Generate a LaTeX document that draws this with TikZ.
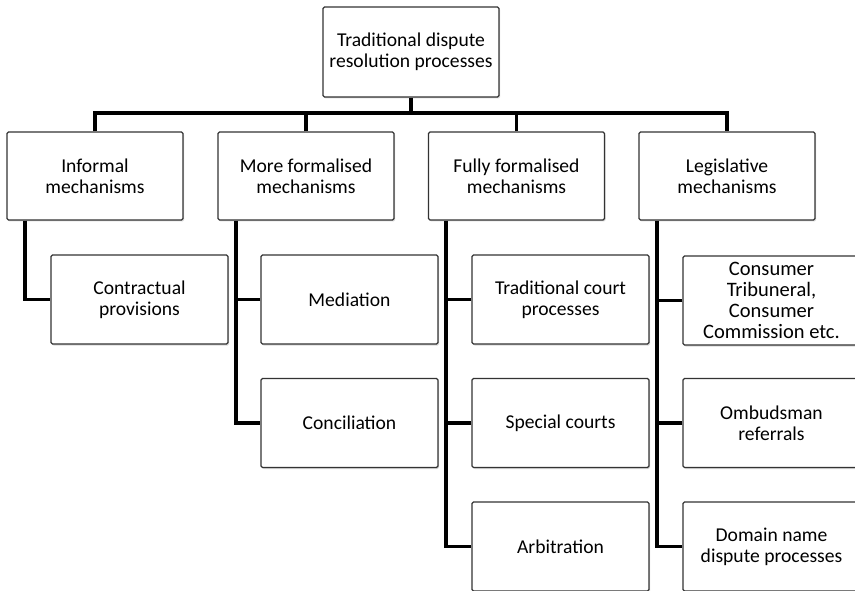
\documentclass[tikz,border=0pt]{standalone}
\usepackage{fontspec}
\setmainfont{Carlito}
\usetikzlibrary{shadows}
\begin{document}
\begin{tikzpicture}[x=1pt,y=-1pt,
  box/.style={draw=black!80, line width=1.3pt, fill=white, rounded corners=1.5pt,
    align=center, inner sep=0pt, font=\fontsize{19.6}{21}\selectfont,
    drop shadow={opacity=0.3, shadow xshift=1.2pt, shadow yshift=-1.5pt, fill=black!50}},
  rootbox/.style={box, minimum width=176pt, minimum height=90pt},
  catbox/.style={box, minimum width=176pt, minimum height=88pt},
  leafbox/.style={box, minimum width=177pt, minimum height=89pt},
  conn/.style={line width=3.8pt, black}]
\useasboundingbox (0,0) rectangle (855,591);
\clip (0,0) rectangle (855,591);

% root
\node[rootbox] (root) at (411,52) {Traditional dispute\\resolution processes};

% categories
\node[catbox] (inf)  at (95,176)    {Informal\\mechanisms};
\node[catbox] (more) at (306,176)   {More formalised\\mechanisms};
\node[catbox] (full) at (516.5,176) {Fully formalised\\mechanisms};
\node[catbox] (leg)  at (727,176)   {Legislative\\mechanisms};

% leaves
\node[leafbox] (contr) at (139.5,299.5) {Contractual\\provisions};
\node[leafbox] (med)   at (349.5,299.5) {Mediation};
\node[leafbox] (conc)  at (349.5,423)   {Conciliation};
\node[leafbox] (court) at (560.5,299.5) {Traditional court\\processes};
\node[leafbox] (spec)  at (560.5,423)   {Special courts};
\node[leafbox] (arb)   at (560.5,546.5) {Arbitration};
\node[leafbox, font=\fontsize{20.5}{21}\selectfont] (cons) at (771.5,300.5)
  {Consumer\\Tribuneral,\\Consumer\\Commission etc.};
\node[leafbox] (omb)   at (771.5,423)   {Ombudsman\\referrals};
\node[leafbox] (dom)   at (771.5,546.5) {Domain name\\dispute processes};

% trunk and bar
\coordinate (bar) at (411,113);
\draw[conn] (root.south) -- (bar);
\draw[conn] (inf.north) |- (bar) -| (leg.north);
\draw[conn] (more.north) -- (more.north |- bar);
\draw[conn] (full.north) -- (full.north |- bar);

% branches to leaves
\draw[conn] ([xshift=18.5pt]inf.south west) |- (contr.west);
\draw[conn] ([xshift=18.5pt]more.south west) |- (conc.west);
\draw[conn] (med.west) -- +(-24,0);
\draw[conn] ([xshift=18.5pt]full.south west) |- (arb.west);
\draw[conn] (court.west) -- +(-25,0);
\draw[conn] (spec.west) -- +(-25,0);
\draw[conn] ([xshift=18.5pt]leg.south west) |- (dom.west);
\draw[conn] (cons.west) -- +(-26,0);
\draw[conn] (omb.west) -- +(-26,0);
\end{tikzpicture}
\end{document}
